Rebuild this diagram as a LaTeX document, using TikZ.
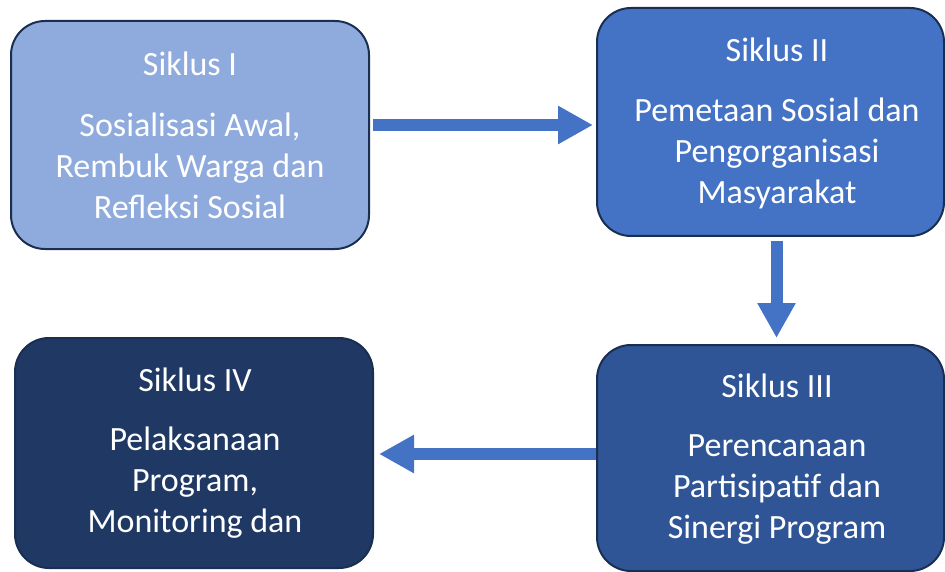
\documentclass[tikz,border=0pt]{standalone}
\usepackage{fontspec}
\setmainfont{Carlito}
\usetikzlibrary{arrows.meta}
\definecolor{siklusA}{HTML}{8FAADC}
\definecolor{siklusB}{HTML}{4472C4}
\definecolor{siklusC}{HTML}{2F5597}
\definecolor{siklusD}{HTML}{203864}
\definecolor{garis}{HTML}{1A2E52}
\tikzset{
  kotak/.style={draw=garis, line width=2pt, rounded corners=34pt, inner sep=0pt},
  judul/.style={text=white, font=\fontsize{34}{42}\selectfont, inner sep=0pt},
  isi/.style={text=white, font=\fontsize{34}{41}\selectfont, align=center, inner sep=0pt},
  alur/.style={draw=siklusB, line width=12pt, -{Triangle[width=36pt,length=35pt]}}
}
\begin{document}
\begin{tikzpicture}[x=1pt,y=-1pt]
        \useasboundingbox (0,0) rectangle (945,572);
        \node[kotak, fill=siklusA, minimum width=358pt, minimum height=228pt] (b1) at (190,135) {};
        \node[kotak, fill=siklusB, minimum width=347pt, minimum height=228pt] (b2) at (770.5,122) {};
        \node[kotak, fill=siklusC, minimum width=347pt, minimum height=226pt] (b3) at (770.5,458) {};
        \node[kotak, fill=siklusD, minimum width=358pt, minimum height=230pt] (b4) at (194,453) {};
        \node[judul] (t1) at (190,64) {Siklus I};
        \node[isi] (d1) at (190,166) {Sosialisasi Awal,\\Rembuk Warga dan\\Refleksi Sosial};
        \node[judul] (t2) at (777,50) {Siklus II};
        \node[isi] (d2) at (777,153) {Pemetaan Sosial dan\\Pengorganisasi\\Masyarakat};
        \node[judul] (t3) at (777,386) {Siklus III};
        \node[isi] (d3) at (777,490) {Perencanaan\\Partisipatif dan\\Sinergi Program};
        \node[judul] (t4) at (195,380) {Siklus IV};
        \node[isi] (d4) at (195,483) {Pelaksanaan\\Program,\\Monitoring dan};
        \draw[alur] ([xshift=3pt,yshift=10pt]b1.east) -- ([xshift=-3pt,yshift=-3pt]b2.west);
        \draw[alur] ([xshift=6pt,yshift=-4pt]b2.south) -- ([xshift=6pt,yshift=6pt]b3.north);
        \draw[alur] ([yshift=4pt]b3.west) -- ([xshift=5pt,yshift=-1pt]b4.east);
\end{tikzpicture}
\end{document}
